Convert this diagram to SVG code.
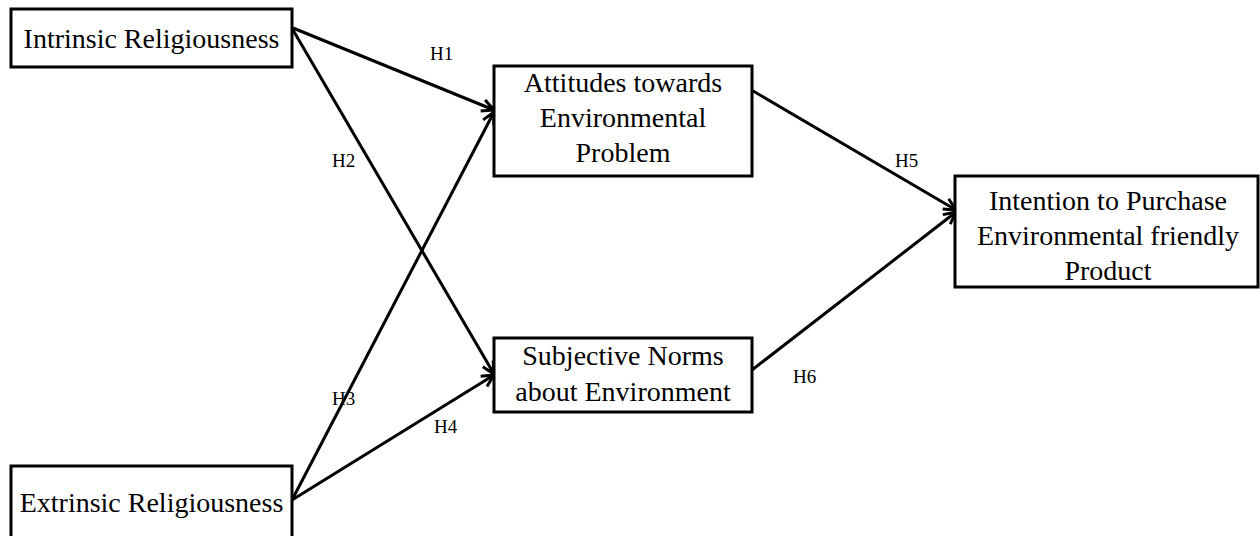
<svg xmlns="http://www.w3.org/2000/svg" width="1260" height="536" viewBox="0 0 1260 536">
<style>
.box{fill:#fff;stroke:#000;stroke-width:3}
.t{font-family:"Liberation Serif","Times New Roman",serif;font-size:28px;fill:#000;text-anchor:middle}
.h{font-family:"Liberation Serif","Times New Roman",serif;font-size:19px;fill:#000}
.c{stroke:#000;stroke-width:3;fill:none}
</style>
<defs>
<marker id="arr" markerUnits="userSpaceOnUse" markerWidth="16" markerHeight="16" viewBox="0 0 16 16" refX="14" refY="8" orient="auto">
<path d="M2,2 L14,8 L2,14" fill="none" stroke="#000" stroke-width="3"/>
</marker>
</defs>
<rect width="1260" height="536" fill="#fff"/>
<g id="connectors">
<line class="c" x1="293" y1="28" x2="494" y2="110" marker-end="url(#arr)"/>
<line class="c" x1="293" y1="30" x2="494" y2="374" marker-end="url(#arr)"/>
<line class="c" x1="292" y1="500" x2="494" y2="112" marker-end="url(#arr)"/>
<line class="c" x1="292" y1="500" x2="494" y2="375" marker-end="url(#arr)"/>
<line class="c" x1="748" y1="88" x2="956" y2="210" marker-end="url(#arr)"/>
<line class="c" x1="752" y1="370" x2="956" y2="212" marker-end="url(#arr)"/>
<text class="h" x="430" y="60">H1</text>
<text class="h" x="332" y="167">H2</text>
<text class="h" x="332" y="405">H3</text>
<text class="h" x="434" y="433">H4</text>
<text class="h" x="895" y="167">H5</text>
<text class="h" x="793" y="383">H6</text>
</g>
<g id="intrinsic">
<rect class="box" x="11" y="9" width="281" height="58"/>
<text class="t" x="151.5" y="48">Intrinsic Religiousness</text>
</g>
<g id="extrinsic">
<rect class="box" x="11" y="466" width="281" height="72"/>
<text class="t" x="151.5" y="512">Extrinsic Religiousness</text>
</g>
<g id="attitudes">
<rect class="box" x="494" y="66" width="258" height="110"/>
<text class="t" x="623" y="92">Attitudes towards</text>
<text class="t" x="623" y="127">Environmental</text>
<text class="t" x="623" y="162">Problem</text>
</g>
<g id="norms">
<rect class="box" x="494" y="338" width="258" height="74"/>
<text class="t" x="623" y="365">Subjective Norms</text>
<text class="t" x="623" y="401">about Environment</text>
</g>
<g id="intention">
<rect class="box" x="955" y="176" width="303" height="111"/>
<text class="t" x="1108" y="210">Intention to Purchase</text>
<text class="t" x="1108" y="245">Environmental friendly</text>
<text class="t" x="1108" y="280">Product</text>
</g>
</svg>
